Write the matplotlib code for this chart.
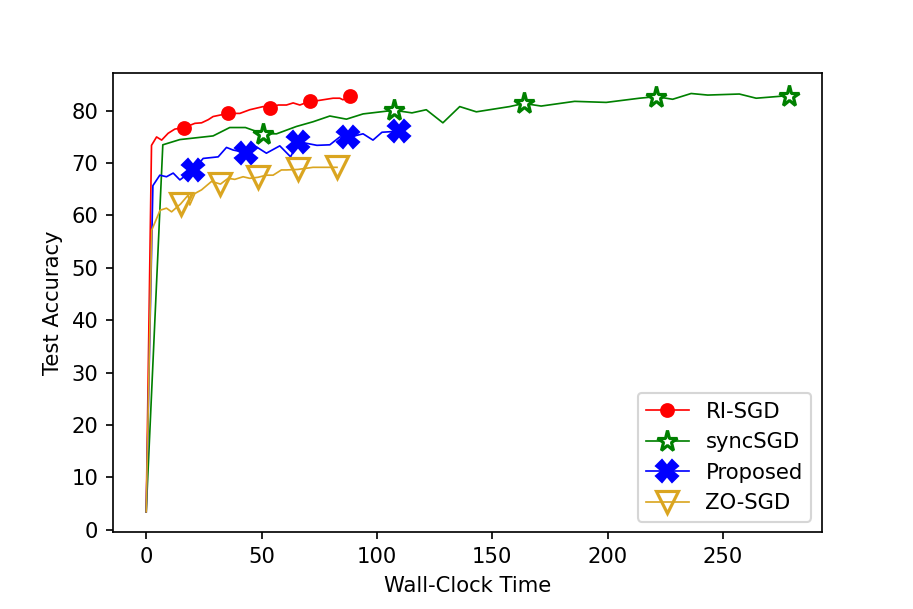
import matplotlib

matplotlib.use("Agg")
import matplotlib.pyplot as plt

# ── data ───────────────────────────────────────────────────────────────────

ri_x = [0, 2.3, 4.5, 6.7, 9.5, 12.4, 16.5, 21.1, 24.0, 26.9, 29.0, 35.5, 40.6,
        44.9, 50.7, 53.6, 57.2, 60.8, 63.7, 66.6, 70.9, 73.8, 78.1, 81.0, 83.9,
        85.3, 88.2]
ri_y = [3.4, 73.4, 75.0, 74.4, 75.7, 76.5, 76.8, 77.6, 77.7, 78.3, 78.9, 79.5,
        79.5, 80.2, 80.8, 80.5, 81.1, 81.1, 81.5, 81.1, 81.8, 81.9, 82.2, 82.4,
        82.4, 82.1, 82.8]

sync_x = [0, 7.2, 14.6, 29.0, 36.2, 43.0, 50.7, 56.5, 65.1, 72.3, 79.6, 86.8,
          94.0, 107.5, 115.2, 121.4, 128.6, 135.9, 143.1, 157.5, 163.7, 171.2,
          185.7, 199.4, 213.8, 221.0, 228.2, 236.2, 243.4, 257.1, 264.4, 278.5]
sync_y = [3.4, 73.5, 74.5, 75.2, 76.8, 76.8, 75.6, 75.6, 77.0, 77.9, 79.0, 78.4,
          79.4, 80.1, 79.6, 80.2, 77.7, 80.8, 79.8, 80.8, 81.4, 80.9, 81.8, 81.6,
          82.4, 82.7, 82.2, 83.3, 83.0, 83.2, 82.4, 82.9]

prop_x = [0, 2.9, 5.9, 8.8, 11.7, 14.6, 20.4, 24.7, 31.2, 34.8, 37.7, 43.2,
          47.8, 52.1, 57.9, 62.6, 65.8, 74.0, 79.6, 83.9, 87.5, 94.0, 98.3,
          102.2, 109.4]
prop_y = [3.4, 65.7, 67.7, 67.4, 68.1, 66.8, 68.7, 70.9, 71.2, 73.0, 72.5, 72.0,
          73.1, 71.9, 73.3, 71.2, 74.1, 73.4, 73.5, 75.0, 74.9, 75.6, 74.4,
          75.9, 76.1]

zo_x = [0, 2.4, 6.0, 8.8, 11.0, 14.9, 18.2, 18.9, 21.1, 24.0, 28.3, 32.2, 35.5,
        38.4, 42.0, 44.9, 48.5, 52.1, 55.0, 58.6, 60.8, 65.8, 72.3, 82.7]
zo_y = [3.4, 57.2, 61.0, 61.4, 60.7, 62.2, 63.9, 62.0, 64.2, 64.9, 66.5, 66.0,
        67.1, 66.9, 67.4, 67.1, 67.3, 67.7, 67.7, 68.7, 68.7, 68.8, 69.2, 69.2]

# ── figure ─────────────────────────────────────────────────────────────────

DPI = 152.2
fig, ax = plt.subplots(figsize=(913 / DPI, 609 / DPI), dpi=DPI)
fig.subplots_adjust(left=0.124, right=0.9, top=0.88, bottom=0.126)

LW = 0.8
ax.plot(ri_x, ri_y, color="red", lw=LW, marker="o", markersize=6,
        markevery=[6, 11, 15, 20, 26], label="RI-SGD")
ax.plot(sync_x, sync_y, color="green", lw=LW, marker="*", markersize=10,
        markerfacecolor="white", markeredgewidth=1.5,
        markevery=[6, 13, 20, 25, 31], label="syncSGD")
ax.plot(prop_x, prop_y, color="blue", lw=LW, marker="X", markersize=10,
        markevery=[6, 11, 16, 20, 24], label="Proposed")
ax.plot(zo_x, zo_y, color="goldenrod", lw=LW, marker="v", markersize=10,
        markerfacecolor="none", markeredgewidth=1.5,
        markevery=[5, 11, 16, 21, 23], label="ZO-SGD")

ax.set_xlim(-14.3, 292.8)
ax.set_ylim(-0.5, 87.2)
ax.set_xticks(range(0, 251, 50))
ax.set_yticks(range(0, 81, 10))
ax.set_xlabel("Wall-Clock Time")
ax.set_ylabel("Test Accuracy")
ax.legend(loc="lower right")

fig.savefig("out.png", dpi=DPI)
